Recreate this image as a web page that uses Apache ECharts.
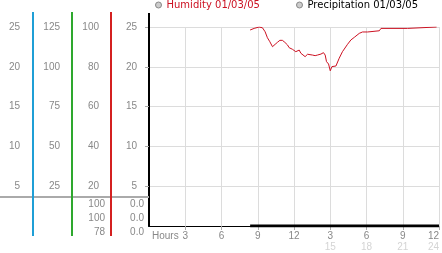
<!DOCTYPE html>
<html><head><meta charset="utf-8">
<script src="https://cdn.jsdelivr.net/npm/echarts@6/dist/echarts.min.js"></script>
<style>html,body{margin:0;padding:0;background:#fff}#c{width:442px;height:253px}</style>
</head><body><div id="c"></div>
<script>
// ---- data ----
var humidityName = 'Humidity 01/03/05';
var precipName = 'Precipitation 01/03/05';
var hours = [8.37, 8.70, 9.11, 9.39, 9.61, 9.80, 10.0, 10.22, 10.44, 10.63, 10.83, 11.04, 11.24, 11.46, 11.60, 11.74, 11.87, 12.01, 12.15, 12.43, 12.57, 12.70, 12.92, 13.12, 13.26, 13.53, 13.75, 13.94, 14.23, 14.44, 14.58, 14.69, 14.86, 15.0, 15.14, 15.47, 15.74, 16.01, 16.43, 16.71, 16.99, 17.4, 17.67, 18.09, 18.23, 19.06, 19.2, 21.4, 21.54, 23.8];
var humidity = [98.5, 99.3, 100, 99.6, 97.6, 94.6, 92.6, 90.1, 91.3, 92.3, 93.3, 93.3, 92.3, 91.0, 89.6, 89.3, 88.8, 87.9, 87.6, 88.4, 86.8, 86.8, 85.1, 86.3, 87.1, 85.9, 85.6, 85.9, 86.4, 87.1, 85.9, 82.6, 81.4, 78, 80.1, 80.4, 84.3, 87.6, 91.3, 93.5, 94.8, 96.8, 97.5, 97.5, 98.1, 98.1, 99.3, 99.3, 100, 100];
var precipHours = [8.37, 24];
var precipValues = [0, 0];
var scaleMax = [25, 125, 100, 25];
var scaleStep = [5, 25, 20, 5];
var humidityStats = ['100', '100', '78'];
var precipStats = ['0.0', '0.0', '0.0'];
var hourTicks = {min: 0, max: 24, step: 3};

var FONT = 'Liberation Sans';
var GREY = '#888';
var COLS = ['#1f9fd6', '#2ea82e', '#d42020', '#000'];
function pairs(xs, ys){ return xs.map(function(x,i){ return [x, ys[i]]; }); }

var axisOffsets = [116, 77, 38, 0];
var yAxes = scaleMax.map(function(mx, i){
  var main = (i === 3);
  return {
    type: 'value', position: 'left', offset: axisOffsets[i],
    min: 0, max: mx, interval: scaleStep[i],
    axisLine: {show: true, lineStyle: {color: COLS[i], width: 2}},
    axisTick: {show: main, length: 4, lineStyle: {color: '#aaa'}},
    splitLine: {show: main, lineStyle: {color: '#dcdcdc', width: 1}},
    axisLabel: {show: true, showMinLabel: false, margin: main ? 12 : (i === 0 ? 13 : 12),
      color: GREY, fontFamily: FONT, fontSize: 10}
  };
});

var tableRowsY = [204, 218, 232];
var graphics = [
  {type:'line', shape:{x1:0,y1:197,x2:149,y2:197}, style:{stroke:'#aaa', lineWidth:2}, z:50},
  {type:'line', shape:{x1:33,y1:12,x2:33,y2:236}, style:{stroke:COLS[0], lineWidth:2}, z:100},
  {type:'line', shape:{x1:72,y1:12,x2:72,y2:236}, style:{stroke:COLS[1], lineWidth:2}, z:100},
  {type:'line', shape:{x1:111,y1:12,x2:111,y2:236}, style:{stroke:COLS[2], lineWidth:2}, z:100},
  {type:'line', shape:{x1:149,y1:13,x2:149,y2:28}, style:{stroke:'#000', lineWidth:2}, z:100},
  {type:'text', left:152, top:231, style:{text:'Hours', fill:GREY, font:'10px "'+FONT+'"'}}
];
tableRowsY.forEach(function(y, i){
  graphics.push({type:'text', x:105, y:y, style:{text:humidityStats[i], fill:GREY, font:'10px "'+FONT+'"', textAlign:'right', textVerticalAlign:'middle'}});
  graphics.push({type:'text', x:144, y:y, style:{text:precipStats[i], fill:GREY, font:'10px "'+FONT+'"', textAlign:'right', textVerticalAlign:'middle'}});
});

var chart = echarts.init(document.getElementById('c'), null, {renderer:'canvas'});
chart.setOption({
  animation: false,
  backgroundColor: '#fff',
  legend: [
    {left: 155, top: 0, padding: 0, itemWidth: 6, itemHeight: 6, selectedMode: false,
     textStyle: {fontFamily: 'DejaVu Sans', fontSize: 10},
     data: [{name: humidityName, icon: 'circle', itemStyle: {color: '#ccc', borderColor: '#888', borderWidth: 1}, textStyle: {color: '#cc1122'}}]},
    {left: 296, top: 0, padding: 0, itemWidth: 6, itemHeight: 6, selectedMode: false,
     textStyle: {fontFamily: 'DejaVu Sans', fontSize: 10},
     data: [{name: precipName, icon: 'circle', itemStyle: {color: '#ccc', borderColor: '#888', borderWidth: 1}, textStyle: {color: '#000'}}]}
  ],
  grid: {left: 149, right: 3, top: 27, bottom: 27, containLabel: false},
  xAxis: {
    type: 'value', min: hourTicks.min, max: hourTicks.max, interval: hourTicks.step,
    axisLine: {show: true, onZero: false, lineStyle: {color: '#000', width: 1}},
    axisTick: {show: true, length: 4, lineStyle: {color: '#aaa'}},
    splitLine: {show: true, lineStyle: {color: '#dcdcdc', width: 1}},
    axisLabel: {
      show: true, margin: 5, showMinLabel: false, alignMaxLabel: 'right',
      formatter: function(v){
        var h = v % 12 === 0 ? 12 : v % 12;
        return v > 12 ? '{a|' + h + '}\n{b|' + v + '}' : '{a|' + h + '}';
      },
      rich: {
        a: {color: GREY, fontFamily: FONT, fontSize: 10, lineHeight: 11},
        b: {color: '#d4d4d4', fontFamily: FONT, fontSize: 10, lineHeight: 11}
      }
    }
  },
  yAxis: yAxes,
  graphic: graphics,
  series: [
    {name: humidityName, type: 'line', yAxisIndex: 2, data: pairs(hours, humidity),
     showSymbol: false, symbol: 'none', color: '#cc1122', lineStyle: {color: '#cc1122', width: 1}, z: 4},
    {name: precipName, type: 'line', yAxisIndex: 3, data: pairs(precipHours, precipValues),
     showSymbol: false, symbol: 'none', color: '#000', lineStyle: {color: '#000', width: 3}, z: 3}
  ]
});
</script></body></html>
